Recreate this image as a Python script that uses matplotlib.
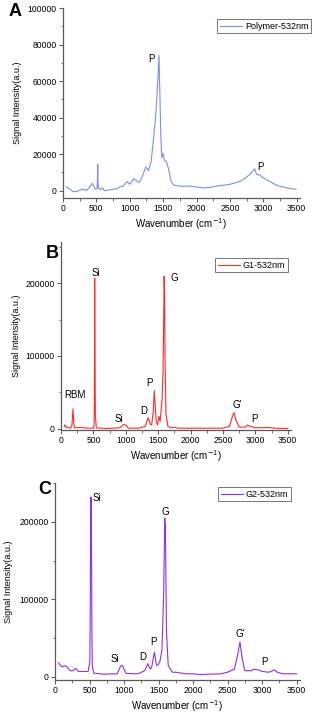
import matplotlib
matplotlib.use("Agg")
import matplotlib.pyplot as plt
from matplotlib.ticker import MultipleLocator

plt.rcParams['font.family'] = ['Liberation Sans', 'DejaVu Sans']

# ---- Panel A: Polymer-532nm ----
wn_a = [50, 100, 150, 200, 300, 350, 440, 480, 510, 516, 520, 524, 530, 560, 590, 620, 700, 800, 850,
        900, 960, 1000, 1060, 1100, 1140, 1180, 1240, 1280, 1320, 1360, 1390, 1420, 1437, 1450,
        1465, 1480, 1500, 1520, 1550, 1580, 1620, 1660, 1750, 1900, 2000, 2100, 2200, 2300, 2400,
        2500, 2600, 2700, 2800, 2870, 2900, 2950, 3000, 3100, 3200, 3300, 3400, 3490]
int_a = [2000, 1000, -500, -500, 1000, 0, 4000, 1000, 1000, 6000, 14500, 5000, 1500, 500, 1500, 0, 500,
         1000, 2000, 2500, 5000, 3500, 6500, 5500, 4500, 7000, 13000, 11000, 16000, 30000, 42000,
         60000, 74000, 55000, 30000, 18000, 20500, 16500, 16000, 12000, 5000, 3000, 2500, 2500,
         2000, 1500, 1800, 2500, 3000, 3500, 4500, 6000, 9000, 12000, 9000, 8500, 7000, 5000,
         3000, 2000, 1200, 800]

# ---- Panel B: G1-532nm ----
wn_b = [50, 60, 80, 150, 170, 185, 200, 210, 300, 400, 500, 512, 516, 520, 524, 530, 545, 700, 900,
        940, 960, 1000, 1040, 1200, 1300, 1345, 1380, 1400, 1425, 1440, 1455, 1470, 1490, 1510,
        1530, 1560, 1575, 1585, 1592, 1600, 1605, 1620, 1650, 1700, 1750, 1800, 2500, 2600,
        2650, 2670, 2700, 2750, 2850, 2880, 2920, 2950, 3000, 3200, 3300, 3500]
int_b = [3000, 5000, 2000, 500, 5000, 27000, 5000, 1000, 1500, 500, 500, 5000, 60000, 207000, 120000,
         20000, 1000, 0, 1000, 3000, 5500, 5000, 500, 500, 3000, 15000, 6000, 5000, 25000, 52000,
         30000, 10000, 5000, 17000, 10000, 40000, 78000, 150000, 210000, 180000, 100000, 20000,
         3000, 1000, 2000, 500, 500, 3000, 18000, 22000, 12000, 2000, 2000, 5000, 3000, 2500, 1000,
         1500, 500, 0]

# ---- Panel C: G2-532nm ----
wn_c = [50, 80, 100, 140, 170, 220, 260, 300, 340, 400, 480, 505, 512, 515, 522, 530, 535, 540, 560,
        700, 900, 950, 975, 1000, 1030, 1200, 1300, 1345, 1380, 1400, 1440, 1470, 1490, 1520,
        1550, 1575, 1590, 1600, 1615, 1640, 1700, 1750, 1900, 2000, 2100, 2400, 2500, 2600,
        2650, 2680, 2710, 2750, 2850, 2880, 2950, 3000, 3100, 3180, 3220, 3300, 3500]
int_c = [18000, 15000, 13000, 14500, 13000, 8000, 8000, 11000, 7000, 7000, 7000, 20000, 100000,
         190000, 232000, 150000, 60000, 15000, 5000, 3500, 4000, 14000, 15000, 10000, 4500, 4000,
         8000, 17000, 10000, 12000, 32000, 15000, 15000, 20000, 35000, 110000, 205000, 190000,
         60000, 15000, 6000, 6000, 4000, 4000, 3000, 4000, 6000, 10000, 30000, 45000, 25000,
         8000, 8000, 10000, 9000, 7000, 6000, 9000, 6000, 4000, 4000]

labels_a = [("P", 1330, 72000), ("P", 2950, 13000)]
labels_b = [("Si", 545, 214000), ("G", 1745, 207000), ("RBM", 214, 45700), ("Si", 900, 12800),
            ("D", 1284, 24000), ("P", 1370, 63000), ("G'", 2726, 33000), ("P", 2980, 12800)]
labels_c = [("Si", 610, 231000), ("G", 1600, 212000), ("Si", 869, 23500), ("D", 1274, 25600),
            ("P", 1424, 45000), ("G'", 2677, 55500), ("P", 3030, 19000)]

W, H = 315, 713
fig = plt.figure(figsize=(W / 100, H / 100), dpi=100)
AXC = '#5a5a5a'


def make_ax(left, right, top, bottom):
    return fig.add_axes([left / W, 1 - bottom / H, (right - left) / W, (bottom - top) / H])


def style(ax, ylim, yticks, ymaj, ymin, ypad):
    ax.set_xlim(0, 3550)
    ax.set_ylim(*ylim)
    for s in ['top', 'right']:
        ax.spines[s].set_visible(False)
    for s in ['left', 'bottom']:
        ax.spines[s].set_linewidth(0.9)
        ax.spines[s].set_color(AXC)
    ax.xaxis.set_major_locator(MultipleLocator(500))
    ax.xaxis.set_minor_locator(MultipleLocator(250))
    ax.yaxis.set_major_locator(MultipleLocator(ymaj))
    ax.yaxis.set_minor_locator(MultipleLocator(ymin))
    ax.set_xticks([0, 500, 1000, 1500, 2000, 2500, 3000, 3500])
    ax.set_yticks(yticks)
    ax.tick_params(direction='out', length=3, width=0.7, labelsize=6.2, pad=1.5, color=AXC)
    ax.tick_params(which='minor', direction='out', length=1.8, width=0.6, color=AXC)
    ax.set_xlabel('Wavenumber (cm$^{-1}$)', fontsize=7, labelpad=2)
    ax.set_ylabel('Signal Intensity(a.u.)', fontsize=6.5, labelpad=ypad)


def legend(ax, x0, y0):
    leg = ax.legend(loc='upper left', bbox_to_anchor=(x0, y0),
                    fontsize=6.5, frameon=True, fancybox=False, edgecolor='#555555',
                    handlelength=2.5, borderpad=0.3, handletextpad=0.3, borderaxespad=0)
    leg.get_frame().set_linewidth(0.7)


# Panel A
axA = make_ax(63, 300, 8, 198)
axA.plot(wn_a, int_a, color='#7a8ef2', lw=0.8, label='Polymer-532nm')
style(axA, (-4000, 100000), [0, 20000, 40000, 60000, 80000, 100000], 20000, 10000, 4)
for t, x, y in labels_a:
    axA.text(x, y, t, fontsize=7, ha='center', va='center')
legend(axA, (217 - 63) / (300 - 63), 1 - (19 - 8) / 190)
fig.text(15 / W, 1 - 12 / H, 'A', fontsize=13, fontweight='bold', ha='center', va='center')

# Panel B
axB = make_ax(61, 291, 242, 430)
axB.plot(wn_b, int_b, color='#ff2a2a', lw=0.8, label='G1-532nm')
style(axB, (-2000, 257000), [0, 100000, 200000], 100000, 50000, 3.5)
for t, x, y in labels_b:
    axB.text(x, y, t, fontsize=7, ha='center', va='center')
legend(axB, (215 - 61) / (291 - 61), 1 - (258 - 242) / 188)
fig.text(52 / W, 1 - 253 / H, 'B', fontsize=13, fontweight='bold', ha='center', va='center')

# Panel C
axC = make_ax(55, 300, 483, 680)
axC.plot(wn_c, int_c, color='#8f2ff0', lw=0.8, label='G2-532nm')
style(axC, (-4000, 250000), [0, 100000, 200000], 100000, 50000, 5)
for t, x, y in labels_c:
    axC.text(x, y, t, fontsize=7, ha='center', va='center')
legend(axC, (218 - 55) / (300 - 55), 1 - (487 - 483) / 197)
fig.text(45 / W, 1 - 490 / H, 'C', fontsize=13, fontweight='bold', ha='center', va='center')

fig.savefig('out.png', dpi=100)
